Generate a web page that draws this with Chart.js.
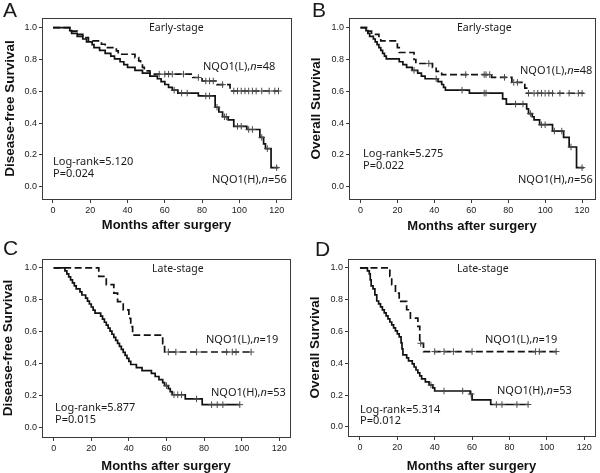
<!DOCTYPE html>
<html><head><meta charset="utf-8">
<script src="https://cdn.jsdelivr.net/npm/chart.js@4.4.1/dist/chart.umd.min.js"></script>
<style>
html,body{margin:0;padding:0;background:#fff;width:600px;height:473px;overflow:hidden}
.p{position:absolute}
canvas{display:block}
</style></head><body>
<div class="p" style="left:0;top:0"><canvas id="cA" width="300" height="236"></canvas></div>
<div class="p" style="left:300px;top:0"><canvas id="cB" width="300" height="236"></canvas></div>
<div class="p" style="left:0;top:236px"><canvas id="cC" width="300" height="237"></canvas></div>
<div class="p" style="left:300px;top:236px"><canvas id="cD" width="300" height="237"></canvas></div>
<script>
// ---- data: [month, survival] ----
const XTICKS=[0,20,40,60,80,100,120];
const YTICKS=[0,0.2,0.4,0.6,0.8,1.0];

// Panel A: Disease-free survival, early stage
const A_LOW=[[0,1],[9,0.979],[13,0.958],[16,0.938],[19,0.917],[26,0.896],[28,0.875],[34,0.854],[35,0.833],[44,0.812],[46,0.792],[47,0.771],[48,0.750],[49,0.729],[52,0.708],[75,0.687],[80,0.665],[88,0.642],[95,0.602],[121,0.602]];
const A_LOW_CENS=[[57,0.708],[60,0.708],[62,0.708],[64,0.708],[70,0.708],[78,0.687],[82,0.665],[84,0.665],[86,0.665],[91,0.642],[97,0.602],[99,0.602],[101,0.602],[103,0.602],[105,0.602],[107,0.602],[109,0.602],[112,0.602],[116,0.602],[119,0.602],[121,0.602]];
const A_HIGH=[[0,1],[9,0.982],[10,0.964],[13,0.946],[16,0.929],[18,0.911],[21,0.893],[22,0.875],[25,0.857],[28,0.839],[31,0.821],[33,0.804],[36,0.786],[38,0.768],[40,0.750],[44,0.732],[48,0.714],[52,0.696],[56,0.679],[58,0.661],[60,0.643],[62,0.625],[64,0.607],[67,0.589],[78,0.571],[87,0.500],[89,0.470],[91,0.440],[94,0.420],[97,0.380],[104,0.360],[111,0.310],[113,0.270],[114,0.240],[117,0.120],[121,0.120]];
const A_HIGH_CENS=[[65,0.607],[69,0.589],[72,0.589],[82,0.571],[84,0.571],[88,0.500],[92,0.440],[93,0.440],[99,0.380],[101,0.380],[105,0.360],[107,0.360],[112,0.310],[115,0.240],[120,0.120]];

// Panel B: Overall survival, early stage
const B_LOW=[[0,1],[4,0.979],[6,0.958],[10,0.938],[11,0.917],[20,0.875],[21,0.844],[29,0.800],[30,0.775],[39,0.750],[41,0.725],[44,0.705],[71,0.688],[82,0.656],[89,0.620],[90,0.588],[121,0.588]];
const B_LOW_CENS=[[37,0.775],[57,0.705],[67,0.705],[68,0.705],[70,0.705],[78,0.688],[83,0.656],[85,0.656],[91,0.588],[94,0.588],[96,0.588],[98,0.588],[100,0.588],[102,0.588],[104,0.588],[108,0.588],[113,0.588],[118,0.588],[120,0.588]];
const B_HIGH=[[0,1],[3,0.982],[4,0.964],[5,0.946],[7,0.929],[8,0.911],[9,0.893],[10,0.875],[11,0.857],[12,0.839],[13,0.821],[14,0.804],[21,0.786],[23,0.768],[25,0.750],[28,0.732],[31,0.714],[33,0.696],[35,0.679],[42,0.661],[44,0.643],[45,0.625],[46,0.607],[59,0.589],[77,0.552],[79,0.520],[90,0.490],[91,0.460],[93,0.440],[94,0.420],[97,0.390],[104,0.350],[110,0.310],[113,0.250],[117,0.120],[121,0.120]];
const B_HIGH_CENS=[[29,0.732],[41,0.679],[55,0.607],[67,0.589],[68,0.589],[84,0.520],[88,0.520],[92,0.460],[98,0.390],[100,0.390],[105,0.350],[109,0.350],[114,0.250],[120,0.120]];

// Panel C: Disease-free survival, late stage
const C_LOW=[[0,1],[24,0.947],[28,0.895],[32,0.842],[34,0.789],[37,0.737],[40,0.684],[41,0.632],[42,0.579],[58,0.526],[59,0.474],[106,0.474]];
const C_LOW_CENS=[[61,0.474],[65,0.474],[76,0.474],[92,0.474],[95,0.474],[97,0.474],[105,0.474]];
const C_HIGH=[[0,1],[6,0.981],[7,0.962],[8,0.943],[9,0.925],[10,0.906],[11,0.887],[12,0.868],[14,0.849],[15,0.830],[17,0.811],[18,0.792],[19,0.774],[20,0.755],[21,0.736],[22,0.717],[25,0.698],[26,0.679],[27,0.660],[28,0.642],[29,0.623],[30,0.604],[31,0.585],[32,0.566],[33,0.547],[34,0.528],[35,0.509],[36,0.491],[37,0.472],[38,0.453],[39,0.434],[40,0.415],[41,0.396],[44,0.377],[47,0.358],[52,0.340],[54,0.321],[56,0.302],[58,0.283],[59,0.264],[61,0.245],[62,0.226],[63,0.207],[70,0.181],[79,0.145],[99,0.145]];
const C_HIGH_CENS=[[60,0.264],[64,0.207],[66,0.207],[68,0.207],[76,0.181],[84,0.145],[87,0.145],[90,0.145],[99,0.145]];

// Panel D: Overall survival, late stage
const D_LOW=[[0,1],[16,0.947],[17,0.895],[19,0.842],[21,0.789],[25,0.737],[27,0.684],[31,0.632],[32,0.526],[34,0.474],[106,0.474]];
const D_LOW_CENS=[[32.5,0.526],[40,0.474],[45,0.474],[50,0.474],[60,0.474],[94,0.474],[96,0.474],[105,0.474]];
const D_HIGH=[[0,1],[4,0.981],[5,0.962],[5.5,0.925],[6,0.887],[7,0.868],[8,0.830],[9,0.792],[10,0.774],[11,0.755],[12,0.736],[13,0.717],[14,0.698],[15,0.679],[16,0.660],[17,0.642],[18,0.623],[19,0.604],[20,0.585],[21,0.566],[22,0.528],[22.5,0.491],[23,0.453],[25,0.434],[26,0.415],[28,0.396],[29,0.377],[30,0.358],[31,0.340],[32,0.321],[33,0.302],[35,0.283],[37,0.264],[39,0.245],[40,0.226],[59,0.207],[60,0.170],[70,0.141],[90,0.141]];
const D_HIGH_CENS=[[38,0.264],[45,0.226],[55,0.226],[59.5,0.207],[73,0.141],[76,0.141],[84,0.141],[90,0.141]];

// ---- drawing ----
const TXT='"Noto Sans", "DejaVu Sans", sans-serif';
const ARIAL='"Liberation Sans", Arial, sans-serif';
function pts(a){return a.map(p=>({x:p[0],y:p[1]}));}

const annot={id:'annot',afterDraw(chart,args,o){
  const ctx=chart.ctx,a=chart.chartArea;
  ctx.save();
  ctx.strokeStyle='#3a3a3a';ctx.lineWidth=1;
  ctx.strokeRect(Math.round(a.left)+0.5,Math.round(a.top)+0.5,Math.round(a.right-a.left),Math.round(a.bottom-a.top));
  ctx.fillStyle='#1a1a1a';ctx.textBaseline='middle';ctx.textAlign='left';
  (o.texts||[]).forEach(t=>{
    let x=t.x;
    t.parts.forEach(p=>{
      ctx.font=(p[1]||'')+' '+t.size+'px '+(t.family||TXT);
      ctx.fillText(p[0],x,t.y);
      x+=ctx.measureText(p[0]).width;
    });
  });
  ctx.restore();
}};

function makeChart(id,cfg){
  const el=document.getElementById(id);
  const W=el.width,H=el.height;
  const crossDs=(d)=>({data:pts(d),showLine:false,pointStyle:'cross',pointRadius:3.3,pointBorderWidth:1,pointBorderColor:'#4a4a4a',pointBackgroundColor:'#4a4a4a',order:1});
  return new Chart(el,{
    type:'line',
    data:{datasets:[
      {data:pts(cfg.low),borderColor:'#111',borderWidth:1.7,borderDash:[7,3.5],stepped:true,pointRadius:0,fill:false,order:2},
      {data:pts(cfg.high),borderColor:'#111',borderWidth:1.7,stepped:true,pointRadius:0,fill:false,order:2},
      crossDs(cfg.lowC),crossDs(cfg.highC)
    ]},
    options:{
      responsive:false,animation:false,events:[],
      layout:{padding:{left:0,top:cfg.area.top,right:W-cfg.area.right,bottom:0}},
      plugins:{legend:{display:false},tooltip:{enabled:false},annot:{texts:cfg.texts}},
      scales:{
        x:{type:'linear',min:cfg.xr[0],max:cfg.xr[1],
          afterBuildTicks:s=>{s.ticks=XTICKS.map(v=>({value:v}));},
          afterFit:s=>{s.height=H-cfg.area.bottom;},
          grid:{drawOnChartArea:false,drawTicks:true,tickLength:4,color:'#3a3a3a',tickColor:'#3a3a3a'},
          border:{display:false},
          ticks:{font:{family:ARIAL,size:9},color:'#222',padding:2,maxRotation:0,autoSkip:false,callback:v=>String(v)},
          title:{display:true,text:'Months after surgery',font:{family:ARIAL,size:13,weight:'bold'},color:'#111',padding:{top:0,bottom:cfg.xtPad}}
        },
        y:{type:'linear',min:cfg.yr[0],max:cfg.yr[1],
          afterBuildTicks:s=>{s.ticks=YTICKS.map(v=>({value:v}));},
          afterFit:s=>{s.width=cfg.area.left;},
          grid:{drawOnChartArea:false,drawTicks:true,tickLength:3,color:'#3a3a3a',tickColor:'#3a3a3a'},
          border:{display:false},
          ticks:{font:{family:ARIAL,size:9},color:'#222',padding:2,autoSkip:false,callback:v=>Number(v).toFixed(1)},
          title:{display:true,text:cfg.ytitle,font:{family:ARIAL,size:13.5,weight:'bold'},color:'#111',padding:{top:cfg.ytPad,bottom:0}}
        }
      }
    },
    plugins:[annot]
  });
}

function lbl(group,n,x,y){return {x:x,y:y,size:11,parts:[['NQO1('+group+'),',''],['n','italic'],['='+n,'']]};}

makeChart('cA',{low:A_LOW,lowC:A_LOW_CENS,high:A_HIGH,highC:A_HIGH_CENS,
  area:{left:42,right:291,top:18,bottom:199},xr:[-5.9,127.7],yr:[-0.077,1.061],
  ytitle:'Disease-free Survival',ytPad:2,xtPad:3,
  texts:[{x:3,y:11,size:21,family:ARIAL,parts:[['A','']]},
    {x:149,y:28,size:10.5,parts:[['Early-stage','']]},
    lbl('L',48,203,67),lbl('H',56,212,180),
    {x:53,y:162,size:11,parts:[['Log-rank=5.120','']]},
    {x:53,y:174,size:11,parts:[['P=0.024','']]}]});

makeChart('cB',{low:B_LOW,lowC:B_LOW_CENS,high:B_HIGH,highC:B_HIGH_CENS,
  area:{left:49,right:298,top:18,bottom:199},xr:[-6.2,127],yr:[-0.077,1.061],
  ytitle:'Overall Survival',ytPad:8.5,xtPad:1.5,
  texts:[{x:12,y:11,size:21,family:ARIAL,parts:[['B','']]},
    {x:157,y:28.5,size:10.5,parts:[['Early-stage','']]},
    lbl('L',48,220,71),lbl('H',56,218,180),
    {x:63,y:154,size:11,parts:[['Log-rank=5.275','']]},
    {x:63,y:166,size:11,parts:[['P=0.022','']]}]});

makeChart('cC',{low:C_LOW,lowC:C_LOW_CENS,high:C_HIGH,highC:C_HIGH_CENS,
  area:{left:42,right:290,top:23,bottom:201},xr:[-6.2,125.7],yr:[-0.057,1.055],
  ytitle:'Disease-free Survival',ytPad:0.3,xtPad:-0.8,
  texts:[{x:3,y:13.5,size:21,family:ARIAL,parts:[['C','']]},
    {x:152,y:33.5,size:10.5,parts:[['Late-stage','']]},
    lbl('L',19,206,104),lbl('H',53,211,156.5),
    {x:55,y:172,size:11,parts:[['Log-rank=5.877','']]},
    {x:55,y:183.5,size:11,parts:[['P=0.015','']]}]});

makeChart('cD',{low:D_LOW,lowC:D_LOW_CENS,high:D_HIGH,highC:D_HIGH_CENS,
  area:{left:48,right:298,top:23,bottom:200},xr:[-6.4,125.8],yr:[-0.057,1.056],
  ytitle:'Overall Survival',ytPad:7,xtPad:-1.5,
  texts:[{x:15,y:14.5,size:21,family:ARIAL,parts:[['D','']]},
    {x:157,y:33,size:10.5,parts:[['Late-stage','']]},
    lbl('L',19,185,103.5),lbl('H',53,197,155),
    {x:60,y:173.5,size:11,parts:[['Log-rank=5.314','']]},
    {x:60,y:184.5,size:11,parts:[['P=0.012','']]}]});
</script>
</body></html>
